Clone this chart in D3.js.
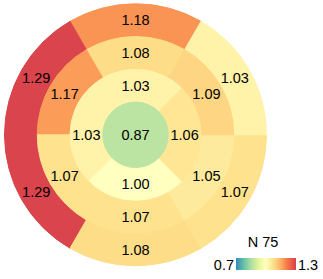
<!DOCTYPE html>
<html>
<head>
<meta charset="utf-8">
<script src="https://cdn.jsdelivr.net/npm/d3@7"></script>
<style>
  body { margin: 0; background: #fff; }
  text { font-family: "Liberation Sans", Arial, sans-serif; fill: #000; }
</style>
</head>
<body>
<div class="chart"></div>
<script>
// Bullseye values (AHA order, counter-clockwise from anterior)
var basalValues = [1.18, 1.29, 1.29, 1.08, 1.07, 1.03];
var midValues = [1.08, 1.17, 1.07, 1.07, 1.05, 1.09];
var apicalValues = [1.03, 1.03, 1.00, 1.06];
var apexValue = 0.87;
var colorDomain = [0.7, 1.3];
var colorTitle = "N 75";

var svgWidth = 323;
var svgHeight = 279;
var cx = 135.5, cy = 134.8, outerR = 131;

var svg = d3.select(".chart")
            .append("svg")
            .attr("width", svgWidth)
            .attr("height", svgHeight);

// Spectral (9 class) reversed, blue -> red
var spectral = ["#3288bd", "#66c2a5", "#abdda4", "#e6f598", "#ffffbf",
                "#fee08b", "#fdae61", "#f46d43", "#d53e4f"];
var color = d3.scaleSequential(d3.piecewise(d3.interpolateRgb, spectral))
              .domain(colorDomain);

// ring index -> radius
var rScale = d3.scaleLinear().domain([0, 4]).range([0, outerR]);

var g = svg.append("g").attr("transform", `translate(${cx}, ${cy})`);

// start = clockwise edge of the first (anterior) segment, degrees from 12 o'clock
var rings = [
  {values: basalValues, inner: 3, outer: 4, start: 30},
  {values: midValues, inner: 2, outer: 3, start: 30},
  {values: apicalValues, inner: 1, outer: 2, start: 45}
];

var arc = d3.arc();
var segs = [];
rings.forEach(function(ring) {
  var n = ring.values.length;
  var step = 360 / n;
  ring.values.forEach(function(v, i) {
    var a0 = ring.start - step * i;
    segs.push({
      value: v,
      innerRadius: rScale(ring.inner),
      outerRadius: rScale(ring.outer),
      startAngle: (a0 - step) * Math.PI / 180,
      endAngle: a0 * Math.PI / 180
    });
  });
});
segs.push({value: apexValue, innerRadius: 0, outerRadius: rScale(1),
           startAngle: 0, endAngle: 2 * Math.PI});

g.selectAll("path.seg")
 .data(segs)
 .enter()
 .append("path")
 .attr("class", "seg")
 .attr("d", d => arc(d))
 .attr("fill", d => color(d.value))
 .attr("stroke", d => color(d.value))
 .attr("stroke-width", 1);

g.selectAll("text.lbl")
 .data(segs)
 .enter()
 .append("text")
 .attr("class", "lbl")
 .attr("transform", function(d) {
   if (d.innerRadius === 0) return "translate(0,0)";
   var c = arc.centroid(d);
   return `translate(${c[0]}, ${c[1]})`;
 })
 .attr("text-anchor", "middle")
 .attr("dy", "0.36em")
 .style("font-size", "14.5px")
 .text(d => d.value.toFixed(2));

// Colorbar
var barX = 236, barY = 258, barW = 60, barH = 12;
var defs = svg.append("defs");
var grad = defs.append("linearGradient").attr("id", "cbar");
d3.range(0, 1.0001, 0.05).forEach(function(t) {
  grad.append("stop")
      .attr("offset", t)
      .attr("stop-color", color(colorDomain[0] + t * (colorDomain[1] - colorDomain[0])));
});
svg.append("rect")
   .attr("x", barX).attr("y", barY)
   .attr("width", barW).attr("height", barH)
   .attr("fill", "url(#cbar)");

svg.append("text")
   .attr("x", barX - 2).attr("y", barY + barH)
   .attr("text-anchor", "end")
   .style("font-size", "14.5px")
   .text(colorDomain[0].toFixed(1));
svg.append("text")
   .attr("x", barX + barW + 2).attr("y", barY + barH)
   .style("font-size", "14.5px")
   .text(colorDomain[1].toFixed(1));
svg.append("text")
   .attr("x", barX + barW / 2 - 3).attr("y", barY - 11)
   .attr("text-anchor", "middle")
   .style("font-size", "14.5px")
   .text(colorTitle);
</script>
</body>
</html>
